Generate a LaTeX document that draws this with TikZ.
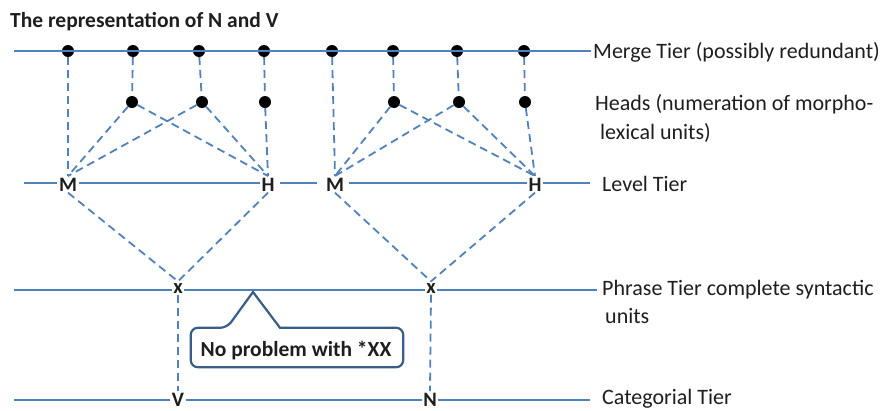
\documentclass[tikz,border=0pt]{standalone}
\usepackage{fontspec}
\setmainfont{Carlito}
\definecolor{tierblue}{RGB}{79,129,189}
\definecolor{boxblue}{RGB}{56,93,138}
\definecolor{txt}{RGB}{30,30,30}
\tikzset{
  tier/.style={draw=tierblue, line width=1.6pt},
  link/.style={draw=tierblue, line width=1.8pt, dash pattern=on 8pt off 5pt},
  dot/.style={circle, fill=black, minimum size=12pt, inner sep=0pt},
  letter/.style={font=\fontsize{20.5}{22}\selectfont\bfseries, text=txt, inner sep=1.5pt, anchor=base},
  tierlabel/.style={font=\fontsize{22}{26}\selectfont, text=txt, inner sep=0pt, anchor=base west},
  callout/.style={draw=boxblue, line width=2.2pt, fill=white}
}
\begin{document}
\begin{tikzpicture}[x=1pt,y=-1pt]
\useasboundingbox (0,0) rectangle (881,410);
% title
\node[tierlabel, font=\fontsize{21.5}{24}\selectfont\bfseries] (title) at (10,27) {The representation of N and V};
% top dots (merge tier)
\foreach \n/\x in {1/68,2/133,3/199,4/264,5/332,6/393,7/457,8/524}
  \node[dot] (t\n) at (\x,51) {};
% head dots
\foreach \n/\x in {1/132,2/202,3/265,4/394,5/459,6/525}
  \node[dot] (h\n) at (\x,102) {};
% level letters
\node[letter] (M1) at (68,191) {M};
\node[letter] (H1) at (268,191) {H};
\node[letter] (M2) at (335,191) {M};
\node[letter] (H2) at (535,191) {H};
% phrase letters
\node[letter] (x1) at (178,293) {x};
\node[letter] (x2) at (431,293) {x};
% categorial letters
\node[letter] (V) at (178,406) {V};
\node[letter] (N) at (430,406) {N};
% tier end coordinates
\coordinate (mL) at (14,51);
\coordinate (mR) at (591,51);
\coordinate (lL) at (24,183);
\coordinate (lR) at (590,183);
\coordinate (pL) at (14,290);
\coordinate (pR) at (597,290);
\coordinate (cL) at (14,400);
\coordinate (cR) at (590,400);
% tier lines
\draw[tier] (mL) -- (mR);
\draw[tier] (lL) -- (M1.west |- lL);
\draw[tier] (M1.east |- lL) -- (H1.west |- lL);
\draw[tier, shorten >=7pt, shorten <=4pt] (H1.east |- lL) -- (M2.west |- lL);
\draw[tier, shorten <=3pt] (M2.east |- lL) -- (H2.west |- lL);
\draw[tier] (H2.east |- lL) -- (lR);
\draw[tier] (pL) -- (x1.west |- pL);
\draw[tier] (x1.east |- pL) -- (x2.west |- pL);
\draw[tier] (x2.east |- pL) -- (pR);
\draw[tier] (cL) -- (V.west |- cL);
\draw[tier] (V.east |- cL) -- (N.west |- cL);
\draw[tier] (N.east |- cL) -- (cR);
% dashed links: merge to heads / level
\draw[link] (t1) -- (M1.north);
\draw[link] (t2) -- (h1);
\draw[link] (t3) -- (h2);
\draw[link] (t4) -- (h3);
\draw[link] (t5) -- (M2.north);
\draw[link] (t6) -- (h4);
\draw[link] (t7) -- (h5);
\draw[link] (t8) -- (h6);
% heads to level
\draw[link] (h1) -- (M1.north);
\draw[link] (h2) -- (M1.north);
\draw[link] (h1) -- (H1.north);
\draw[link] (h2) -- (H1.north);
\draw[link] (h3) -- (H1.north);
\draw[link] (h4) -- (M2.north);
\draw[link] (h5) -- (M2.north);
\draw[link] (h4) -- (H2.north);
\draw[link] (h5) -- (H2.north);
\draw[link] (h6) -- (H2.north);
% level to phrase
\draw[link] (M1.south) -- (x1.north);
\draw[link] (H1.south) -- (x1.north);
\draw[link] (M2.south) -- (x2.north);
\draw[link] (H2.south) -- (x2.north);
% phrase to categorial
\draw[link] (x1.south) -- (V.north);
\draw[link] (x2.south) -- (N.north);
% tier labels
\node[tierlabel] (lbm) at (593,58) {Merge Tier (possibly redundant)};
\node[tierlabel] (lbh1) at (595,110) {Heads (numeration of morpho-};
\node[tierlabel] (lbh2) at (600,139) {lexical units)};
\node[tierlabel] (lbl) at (602,191) {Level Tier};
\node[tierlabel] (lbp1) at (602,295) {Phrase Tier complete syntactic};
\node[tierlabel] (lbp2) at (605,323) {units};
\node[tierlabel] (lbc) at (602,404) {Categorial Tier};
% callout
\coordinate (tip) at (253,292);
\node[minimum width=212pt, minimum height=39pt, inner sep=0pt] (cb) at (297,347.5) {};
\draw[callout] (tip) -- ([xshift=-17pt]cb.north) [rounded corners=7pt] -- (cb.north east) -- (cb.south east) -- (cb.south west) -- (cb.north west) -- ([xshift=-70pt]cb.north) [sharp corners] -- cycle;
\node[font=\fontsize{21.5}{24}\selectfont\bfseries, text=txt, anchor=base] (cbt) at (296,356) {No problem with *XX};
\end{tikzpicture}
\end{document}
